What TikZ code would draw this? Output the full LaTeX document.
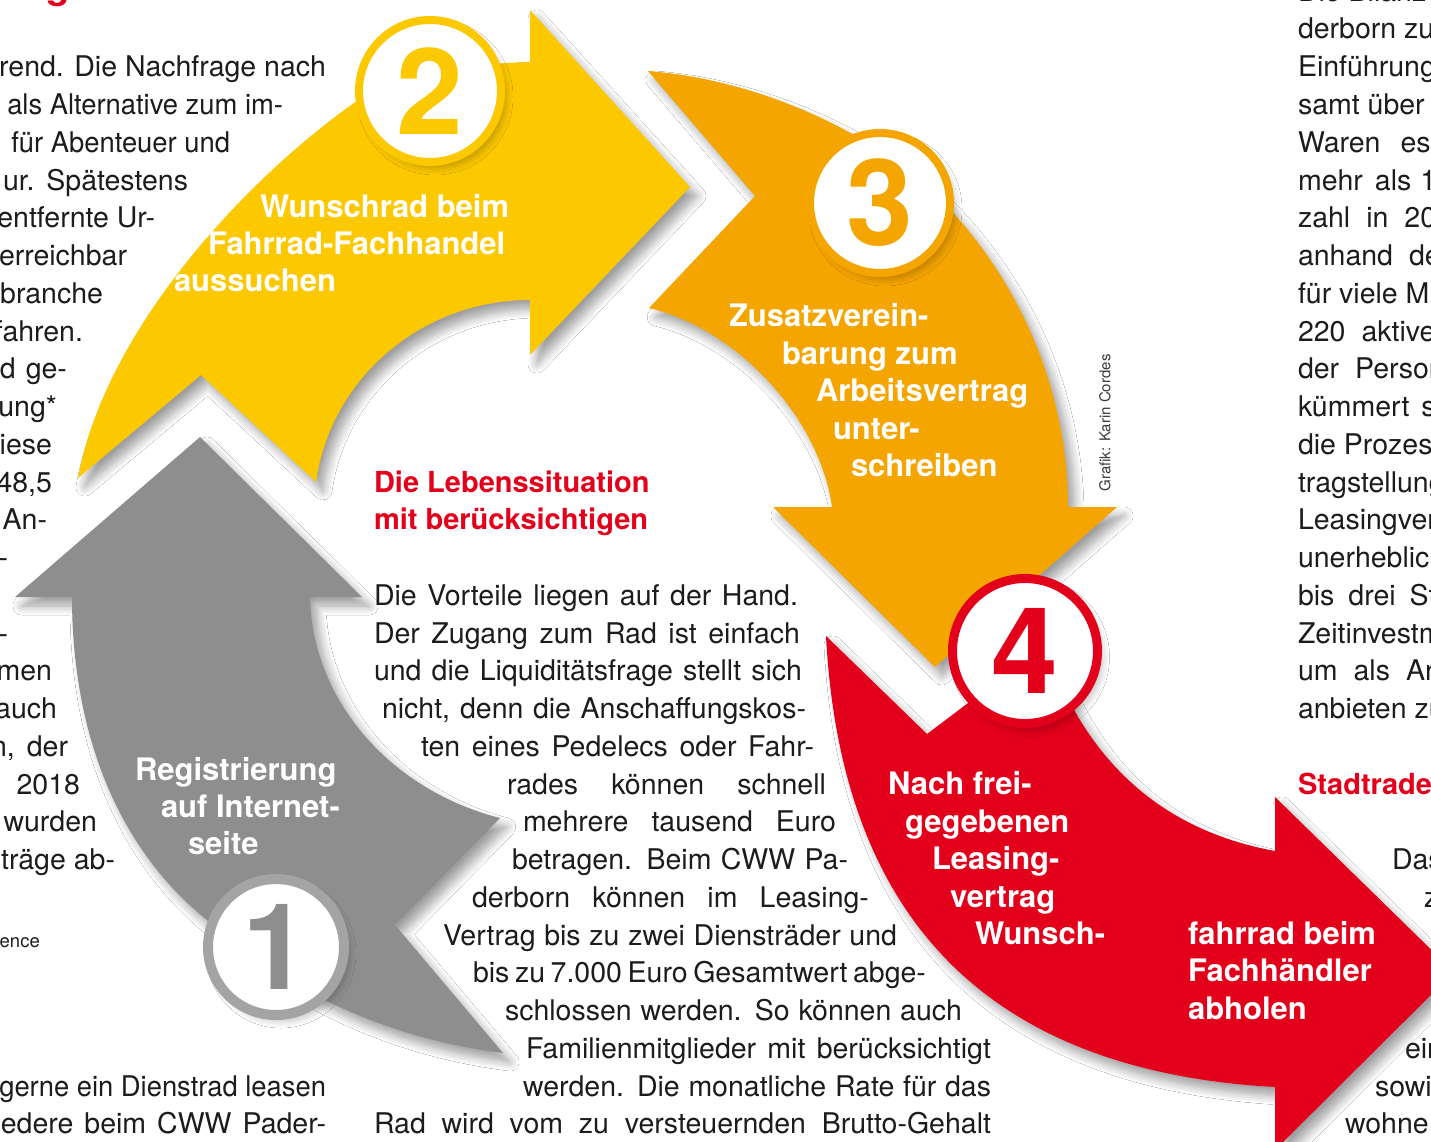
\documentclass[tikz,border=0pt]{standalone}
\usepackage{fontspec}
\setmainfont{TeX Gyre Heros}
\newfontfamily\narrowbody[FakeStretch=0.96]{TeX Gyre Heros}
\usetikzlibrary{shadows.blur}

\definecolor{ink}{HTML}{1E1B1C}
\definecolor{stepgray}{HTML}{8E8E8E}
\definecolor{ringgray}{HTML}{A4A4A4}
\definecolor{stepyellow}{HTML}{FCC800}
\definecolor{steporange}{HTML}{F5A500}
\definecolor{stepred}{HTML}{E2001A}
\definecolor{headred}{HTML}{E2001A}
\definecolor{creditgray}{HTML}{3A3A3A}

\tikzset{
  softshadow/.style={blur shadow={shadow xshift=7pt, shadow yshift=-9pt,
      shadow blur radius=9pt, shadow blur steps=10, shadow opacity=38}},
  badgeshadow/.style={blur shadow={shadow xshift=5pt, shadow yshift=-6pt,
      shadow blur radius=7pt, shadow blur steps=8, shadow opacity=25}},
  bodytext/.style={inner sep=0pt, outer sep=0pt, text=ink,
      font=\fontsize{28.5}{37.75}\selectfont},
  narrowtext/.style={bodytext, font=\narrowbody\fontsize{28.5}{37.75}\selectfont},
  headline/.style={inner sep=0pt, outer sep=0pt, text=headred, anchor=base west,
      font=\fontsize{29}{37.75}\selectfont\bfseries},
  steplabel/.style={inner sep=0pt, outer sep=0pt, text=white, anchor=base west,
      font=\fontsize{31}{37.5}\selectfont\bfseries},
  badge/.style={circle, fill=white, inner sep=0pt, badgeshadow,
      font=\fontsize{120}{120}\selectfont\bfseries},
}

% body lines sit on a common baseline grid: y = 1.25 + 37.75*k
\newcommand\lineJ[5]{\node[bodytext,anchor=base west] (#1) at (#2,{1.25+37.75*#3}) {\makebox[#4pt][s]{#5}};}
\newcommand\lineL[4]{\node[bodytext,anchor=base west] (#1) at (#2,{1.25+37.75*#3}) {#4};}
\newcommand\lineR[4]{\node[bodytext,anchor=base east] (#1) at (#2,{1.25+37.75*#3}) {#4};}
\newcommand\lineRn[4]{\node[narrowtext,anchor=base east] (#1) at (#2,{1.25+37.75*#3}) {#4};}

\begin{document}
\begin{tikzpicture}[x=1pt,y=-1pt]
\useasboundingbox (0,0) rectangle (1431,1142);
\clip (0,0) rectangle (1431,1142);
\fill[white] (0,0) rectangle (1431,1142);

% ---------- step 1: grey arrow pointing up ----------
\path[fill=stepgray, softshadow]
  (72,597) -- (15,597) -- (200,437) -- (362,597) -- (310,597)
  .. controls (312,700) and (390,790) .. (500,818)
  -- (395,925) -- (503,1053)
  .. controls (400,1040) and (300,1000) .. (220,930)
  .. controls (110,850) and (72,720) .. (72,597) -- cycle;

% ---------- step 2: yellow arrow pointing right ----------
\path[fill=stepyellow, softshadow]
  (78,478) .. controls (105,330) and (245,180) .. (354,103)
  .. controls (400,72) and (470,64) .. (530,62)
  -- (530,10) -- (690,187) -- (530,355) -- (530,300)
  .. controls (420,300) and (330,380) .. (316,482)
  -- (201,375) -- cycle;

% ---------- step 3: orange arrow pointing down ----------
\path[fill=steporange, softshadow]
  (648,71) .. controls (760,80) and (860,130) .. (920,180)
  .. controls (1010,260) and (1068,380) .. (1068,507)
  -- (1117,507) -- (935,667) -- (773,507) -- (832,507)
  .. controls (820,420) and (740,330) .. (649,308)
  -- (755,196) -- cycle;

% ---------- step 4: red arrow pointing right ----------
\path[fill=stepred, softshadow]
  (826,636) .. controls (840,900) and (970,1070) .. (1275,1087)
  -- (1275,1150) -- (1454,972) -- (1275,797) -- (1275,851)
  .. controls (1160,830) and (1085,760) .. (1045,645)
  -- (927,734) -- cycle;

% ---------- numbered badges ----------
\node[badge, draw=ringgray, line width=10pt, minimum size=136pt, text=stepgray] (n1) at (276,947) {1};
\node[badge, draw=stepyellow, line width=8pt, minimum size=142pt, text=stepyellow] (n2) at (430,91) {2};
\node[badge, draw=steporange, line width=8pt, minimum size=140pt, text=steporange] (n3) at (880,203) {3};
\node[badge, draw=stepred, line width=9pt, minimum size=145pt, text=stepred] (n4) at (1025,651) {4};

% ---------- labels on the arrows ----------
\node[steplabel] (g1) at (135,780) {Registrierung};
\node[steplabel] (g2) at (161,817) {auf Internet-};
\node[steplabel] (g3) at (188,854) {seite};

\node[steplabel] (y1) at (260,217) {Wunschrad beim};
\node[steplabel] (y2) at (208,254) {Fahrrad-Fachhandel};
\node[steplabel] (y3) at (174,291) {aussuchen};

\node[steplabel] (o1) at (729,326) {Zusatzverein-};
\node[steplabel] (o2) at (782,364) {barung zum};
\node[steplabel] (o3) at (816,401) {Arbeitsvertrag};
\node[steplabel] (o4) at (833,439) {unter-};
\node[steplabel] (o5) at (851,476) {schreiben};

\node[steplabel] (q1) at (888,794) {Nach frei-};
\node[steplabel] (q2) at (905,832) {gegebenen};
\node[steplabel] (q3) at (932,869) {Leasing-};
\node[steplabel] (q4) at (950,907) {vertrag};
\node[steplabel] (q5) at (975,944) {Wunsch-};
\node[steplabel] (q6) at (1188,944) {fahrrad beim};
\node[steplabel] (q7) at (1188,981) {Fachhändler};
\node[steplabel] (q8) at (1188,1019) {abholen};

% ---------- credit ----------
\node[inner sep=0pt, rotate=90, text=creditgray, font=\fontsize{15}{16}\selectfont] (credit) at (1105,423) {Grafik: Karin Cordes};

% ---------- headlines ----------
\node[inner sep=0pt, anchor=base west, text=headred, font=\fontsize{38}{40}\selectfont\bfseries] (toph) at (46,-1.5) {gebot};
\node[headline] (h1a) at (374,{1.25+37.75*13}) {Die Lebenssituation};
\node[headline] (h1b) at (374,{1.25+37.75*14}) {mit berücksichtigen};
\node[headline] (h2) at (1298,{1.25+37.75*21}) {Stadtrade};

% ---------- left column ----------
\lineR{l2}{326}{2}{rend. Die Nachfrage nach}
\lineRn{l3}{283}{3}{als Alternative zum im-}
\lineRn{l4}{230}{4}{für Abenteuer und}
\lineR{l5}{188}{5}{ur.\hspace{12pt}Spätestens}
\lineR{l6}{155}{6}{entfernte Ur-}
\lineR{l7}{127}{7}{erreichbar}
\lineR{l8}{103}{8}{branche}
\lineR{l9}{83}{9}{fahren.}
\lineR{l10}{67}{10}{d\hspace{10pt}ge-}
\lineR{l11}{57}{11}{ung*}
\lineR{l12}{52}{12}{liese}
\lineR{l13}{52}{13}{48,5}
\lineR{l14}{47}{14}{An-}
\lineR{l15}{8}{15}{-}
\lineR{l17}{8}{17}{-}
\lineR{l18}{52}{18}{men}
\lineR{l19}{57}{19}{auch}
\lineR{l20}{68}{20}{n,\hspace{12pt}der}
\lineR{l21}{80}{21}{2018}
\lineR{l22}{97}{22}{wurden}
\lineR{l23}{115}{23}{träge ab-}
\node[inner sep=0pt, anchor=base east, text=ink, font=\fontsize{18.5}{20}\selectfont] (src) at (40,947) {ence};
\lineRn{l29}{326}{29}{gerne ein Dienstrad leasen}
\lineR{l30}{326}{30}{edere\hspace{11pt}beim\hspace{11pt}CWW\hspace{11pt}Pader-}

% ---------- centre column, set around the arrows ----------
\lineJ{c16}{374}{16}{424}{Die Vorteile liegen auf der Hand.}
\lineJ{c17}{374}{17}{426}{Der Zugang zum Rad ist einfach}
\lineJ{c18}{374}{18}{428}{und die Liquiditätsfrage stellt sich}
\lineJ{c19}{382}{19}{424}{nicht, denn die Anschaffungskos-}
\lineJ{c20}{421}{20}{393}{ten eines Pedelecs oder Fahr-}
\lineJ{c21}{507}{21}{319}{rades können schnell}
\lineJ{c22}{523}{22}{313}{mehrere tausend Euro}
\lineJ{c23}{512}{23}{336}{betragen. Beim CWW Pa-}
\lineJ{c24}{472}{24}{397}{derborn können im Leasing-}
\lineJ{c25}{443}{25}{454}{Vertrag bis zu zwei Diensträder und}
\lineJ{c26}{473}{26}{453}{bis zu 7.000 Euro Gesamtwert abge-}
\lineJ{c27}{505}{27}{457}{schlossen werden. So können auch}
\lineJ{c28}{526}{28}{465}{Familienmitglieder mit berücksichtigt}
\lineJ{c29}{523}{29}{468}{werden. Die monatliche Rate für das}
\lineJ{c30}{374}{30}{617}{Rad wird vom zu versteuernden Brutto-Gehalt}

% ---------- right column ----------
\lineL{r0}{1298}{0}{Die Bilanz}
\lineL{r1}{1298}{1}{derborn zu}
\lineL{r2}{1298}{2}{Einführung}
\lineL{r3}{1298}{3}{samt über}
\lineL{r4}{1298}{4}{Waren\hspace{20pt}es}
\lineL{r5}{1298}{5}{mehr\hspace{12pt}als\hspace{9pt}1}
\lineL{r6}{1298}{6}{zahl\hspace{16pt}in\hspace{16pt}20}
\lineL{r7}{1298}{7}{anhand\hspace{16pt}de}
\lineL{r8}{1298}{8}{für viele M}
\lineL{r9}{1298}{9}{220\hspace{16pt}aktive}
\lineL{r10}{1298}{10}{der\hspace{16pt}Person}
\lineL{r11}{1298}{11}{kümmert\hspace{12pt}s}
\lineL{r12}{1298}{12}{die Prozes}
\lineL{r13}{1298}{13}{tragstellung}
\lineL{r14}{1298}{14}{Leasingver}
\lineL{r15}{1298}{15}{unerheblich}
\lineL{r16}{1298}{16}{bis\hspace{14pt}drei\hspace{14pt}St}
\lineL{r17}{1298}{17}{Zeitinvestm}
\lineL{r18}{1298}{18}{um\hspace{16pt}als\hspace{16pt}Ar}
\lineL{r19}{1298}{19}{anbieten zu}
\lineL{r23}{1392}{23}{Das}
\lineL{r24}{1424}{24}{z}
\lineL{r28}{1405}{28}{ein}
\lineL{r29}{1375}{29}{sowi}
\lineL{r30}{1345}{30}{wohne}
\end{tikzpicture}
\end{document}
